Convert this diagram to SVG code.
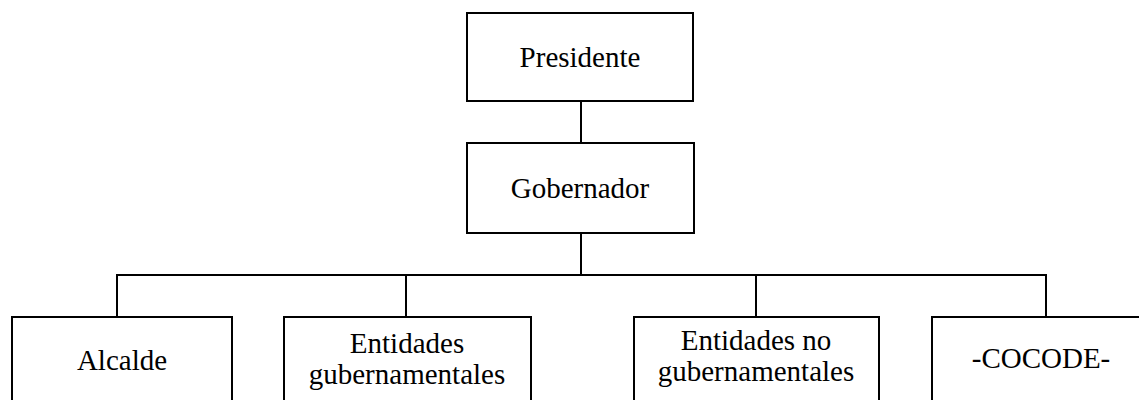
<svg xmlns="http://www.w3.org/2000/svg" width="1139" height="400" viewBox="0 0 1139 400">
<style>
.box{fill:#fff;stroke:#000;stroke-width:2}
.t{font-family:"Liberation Serif","Times New Roman",serif;font-size:29px;fill:#000;text-anchor:middle}
.c{stroke:#000;stroke-width:2;fill:none}
</style>
<rect width="1139" height="400" fill="#fff"/>
<g id="connectors">
<line class="c" x1="581" y1="101" x2="581" y2="143"/>
<line class="c" x1="581" y1="233" x2="581" y2="275"/>
<line class="c" x1="116" y1="275" x2="1047" y2="275"/>
<line class="c" x1="117" y1="275" x2="117" y2="317"/>
<line class="c" x1="406" y1="275" x2="406" y2="317"/>
<line class="c" x1="756" y1="275" x2="756" y2="317"/>
<line class="c" x1="1046" y1="275" x2="1046" y2="317"/>
</g>
<g id="presidente">
<rect class="box" x="467" y="13" width="226" height="88"/>
<text class="t" x="580" y="67">Presidente</text>
</g>
<g id="gobernador">
<rect class="box" x="467" y="143" width="227" height="90"/>
<text class="t" x="580" y="198">Gobernador</text>
</g>
<g id="alcalde">
<rect class="box" x="12" y="317" width="220" height="100"/>
<text class="t" x="122" y="370">Alcalde</text>
</g>
<g id="entidades-gub">
<rect class="box" x="284" y="317" width="247" height="100"/>
<text class="t" x="407" y="353">Entidades</text>
<text class="t" x="407" y="384">gubernamentales</text>
</g>
<g id="entidades-no-gub">
<rect class="box" x="634" y="317" width="245" height="100"/>
<text class="t" x="756" y="350">Entidades no</text>
<text class="t" x="756" y="381">gubernamentales</text>
</g>
<g id="cocode">
<rect class="box" x="932" y="317" width="220" height="100"/>
<text class="t" x="1041" y="368">-COCODE-</text>
</g>
</svg>
